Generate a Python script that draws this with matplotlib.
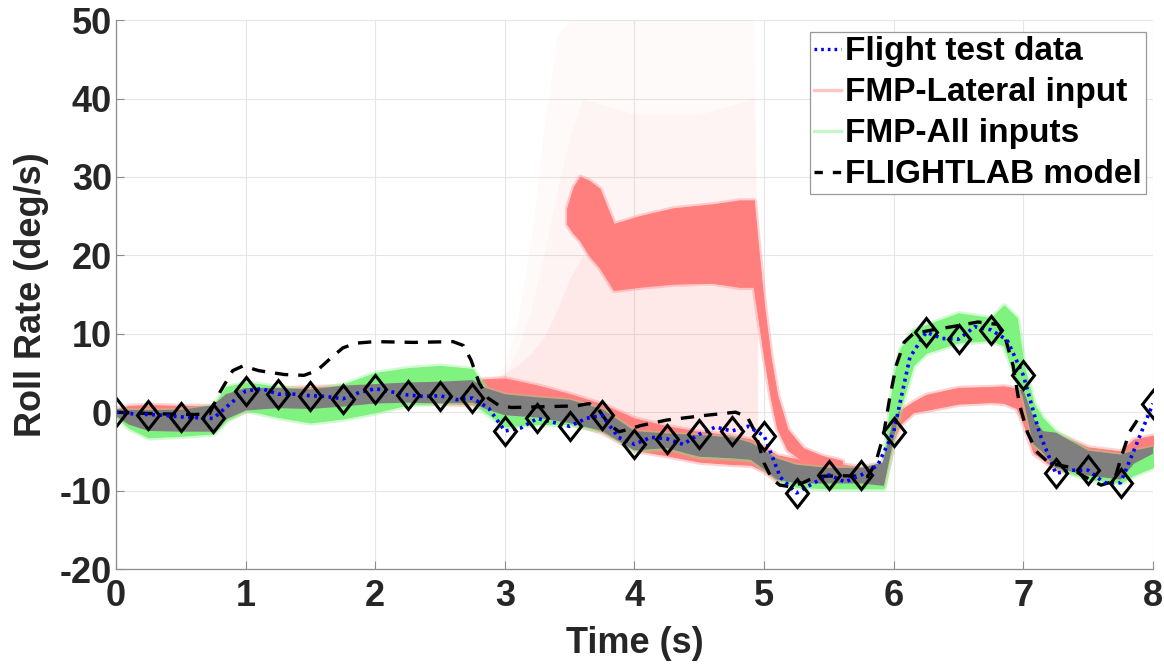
import numpy as np
import matplotlib
matplotlib.use("Agg")
import matplotlib.pyplot as plt
from matplotlib.lines import Line2D
from matplotlib.markers import MarkerStyle
from matplotlib.transforms import Affine2D

plt.rcParams['font.family'] = ['Liberation Sans', 'DejaVu Sans']
plt.rcParams['font.weight'] = 'bold'
plt.rcParams['axes.unicode_minus'] = False

# flight test roll rate, sampled every 0.125 s (markers every 0.25 s)
t_flight = np.arange(0, 65) * 0.125
p_flight = [0.0, -0.2, -0.3, -0.4, -0.6, -0.7, -0.8, 1.0,
            2.7, 3.0, 2.3, 2.3, 2.1, 2.0, 1.7, 2.5,
            3.0, 2.6, 2.2, 2.0, 2.1, 1.6, 1.8, 0.5,
            -2.4, -2.0, -0.8, -1.3, -1.8, -0.8, -0.4, -3.2,
            -4.1, -3.2, -3.4, -4.1, -2.8, -1.9, -2.4, -1.8,
            -3.0, -8.3, -10.3, -9.1, -8.0, -8.9, -8.0, -6.8,
            -2.5, 7.0, 10.2, 9.4, 9.3, 10.9, 10.5, 9.2,
            4.7, -2.7, -7.8, -7.4, -7.4, -9.0, -9.0, -4.0,
            1.1]

# FLIGHTLAB simulation
t_flightlab = [0.0, 0.3, 0.6, 0.72, 0.8, 0.9, 0.98, 1.1, 1.3, 1.45, 1.55, 1.65, 1.75, 1.85,
               2.0, 2.3, 2.6, 2.68, 2.74, 2.8, 2.87, 2.95, 3.05, 3.3, 3.55, 3.65, 3.72,
               3.8, 3.88, 3.95, 4.05, 4.25, 4.55, 4.78, 4.87, 4.93, 5.0, 5.06, 5.12, 5.2,
               5.3, 5.4, 5.6, 5.8, 5.86, 5.92, 5.97, 6.02, 6.08, 6.15, 6.3, 6.45, 6.65,
               6.8, 6.86, 6.92, 6.97, 7.03, 7.1, 7.2, 7.35, 7.47, 7.6, 7.7, 7.76, 7.82,
               7.88, 7.95]
p_flightlab = [0.0, -0.2, -0.3, -0.2, 2.5, 5.3, 5.9, 5.3, 4.8, 4.7, 5.3, 6.8, 8.2, 8.8,
               9.0, 8.9, 9.0, 8.5, 6.6, 3.8, 1.8, 0.9, 0.6, 0.7, 0.8, 1.1, 0.4,
               -1.5, -2.5, -2.2, -1.7, -1.0, -0.4, 0.0, -0.6, -2.5, -6.5, -8.5, -9.3, -9.5,
               -9.0, -8.2, -8.1, -8.2, -6.5, -3.0, 1.9, 6.0, 8.9, 10.0, 10.5, 10.9, 11.5,
               11.2, 9.5, 6.0, 1.0, -2.5, -5.0, -6.5, -7.0, -8.2, -9.3, -8.8, -5.5, -2.5,
               -1.0, -0.5]

# FMP envelopes (min / max over the model runs)
t_band = [0.0, 0.1, 0.25, 0.5, 0.75, 0.85, 1.0, 1.25, 1.5, 1.75, 2.0, 2.25, 2.5, 2.75, 2.85,
          3.0, 3.25, 3.5, 3.75, 4.0, 4.25, 4.5, 4.75, 4.9, 5.0, 5.1, 5.25, 5.5, 5.75, 5.92,
          6.0, 6.05, 6.15, 6.25, 6.5, 6.75, 6.85, 6.95, 7.0, 7.08, 7.15, 7.25, 7.5, 7.75,
          7.85, 8.0]
lat_lo = [-0.4, -1.5, -2.3, -2.4, -2.4, -0.8, 0.3, 0.6, 0.5, 0.8, 1.2, 1.3, 1.2, 1.0, 0.5,
          -0.3, -0.6, -1.3, -2.5, -4.8, -5.5, -6.3, -6.6, -6.7, -7.5, -8.7, -9.0, -9.0, -9.0, -9.3,
          -3.5, -1.5, 0.0, 0.3, 1.1, 1.3, 1.2, 0.5, -1.4, -5.2, -6.0, -7.3, -8.0, -8.5,
          -6.5, -5.2]
lat_hi = [0.4, 0.8, 0.9, 0.8, 0.8, 2.2, 3.0, 3.0, 3.2, 3.3, 3.5, 3.7, 3.8, 4.0, 4.2,
          4.3, 3.4, 2.3, 1.0, -0.8, -1.8, -2.5, -3.0, -3.5, -4.5, -5.5, -6.0, -6.5, -7.0, -6.5,
          -1.0, 0.2, 1.3, 2.2, 3.1, 3.2, 3.3, 3.0, 2.6, -1.0, -2.5, -2.7, -4.5, -5.0,
          -3.5, -3.0]
all_lo = [-0.5, -2.0, -3.2, -3.0, -2.7, -1.0, 0.3, -0.6, -1.3, -0.8, 0.0, 1.0, 1.2, 1.3, 0.0,
          -1.8, -1.5, -1.5, -2.3, -4.8, -4.5, -5.6, -5.8, -6.0, -7.2, -8.5, -9.5, -9.7, -9.7, -9.7,
          -3.0, 0.5, 6.0, 7.6, 8.9, 9.2, 8.5, 4.0, 2.0, -4.0, -5.0, -7.0, -8.5, -9.0,
          -8.0, -7.0]
all_hi = [0.3, 0.2, 0.2, 0.2, 0.8, 3.2, 3.8, 3.2, 2.8, 3.5, 5.0, 5.6, 5.9, 5.5, 3.0,
          2.2, 1.8, 1.5, 0.3, -2.5, -2.8, -3.0, -3.3, -4.0, -5.0, -6.0, -6.8, -7.2, -7.2, -6.5,
          4.5, 8.0, 10.5, 11.1, 12.6, 12.0, 13.6, 12.0, 6.2, 1.1, -0.8, -2.5, -5.0, -5.5,
          -5.0, -4.5]

# lateral-input runs that diverge between 3.5 s and 5 s
t_div = [3.48, 3.53, 3.58, 3.65, 3.73, 3.84, 4.04, 4.3, 4.6, 4.81, 4.92, 4.96, 5.0, 5.05,
         5.1, 5.18, 5.3, 5.45, 5.6]
div_lo = [24.0, 22.8, 21.9, 20.0, 18.5, 15.6, 16.0, 16.4, 16.5, 16.0, 16.0, 11.5, 7.0, 2.0,
          -2.0, -4.8, -6.2, -7.0, -7.4]
div_hi = [26.0, 28.7, 30.0, 29.5, 28.5, 24.0, 25.0, 26.0, 26.5, 27.0, 27.0, 20.0, 13.5, 7.0,
          2.2, -2.2, -4.6, -5.6, -6.2]

# sparse spread of the diverging runs
t_fan = [2.9, 3.0, 3.1, 3.2, 3.3, 3.4, 3.5, 3.6, 4.0, 4.5, 4.92, 4.95]
fan_lo = [4.0, 4.0, 3.8, 3.4, 3.0, 2.6, 2.2, 1.8, -0.8, -2.5, -3.5, -4.0]
fan_near = [4.2, 5.0, 6.0, 7.5, 9.5, 13.0, 17.0, 20.0, 17.0, 16.0, 16.0, 12.0]
fan_mid = [4.2, 5.0, 8.0, 13.0, 20.0, 28.0, 35.0, 40.0, 38.0, 38.0, 40.0, 18.0]
fan_far = [4.2, 6.0, 12.0, 22.0, 36.0, 48.0, 50.0, 50.0, 50.0, 50.0, 50.0, 18.0]

red = '#ff7f7f'
green = '#7ff27f'
grey = '#7f7f7f'


def soft_band(ax, t, lo, hi, color, **kw):
    # blurred rim first, then the solid envelope on top
    ax.fill_between(t, lo, hi, color=color, alpha=0.35, lw=4, edgecolor=color, **kw)
    ax.fill_between(t, lo, hi, color=color, lw=0.8, edgecolor=color, **kw)


fig = plt.figure(figsize=(11.64, 6.71), dpi=100)
ax = fig.add_axes([0.0997, 0.152, 0.8908, 0.818])

for hi, a in [(fan_far, 0.025), (fan_mid, 0.035), (fan_near, 0.07)]:
    ax.fill_between(t_fan, fan_lo, hi, color='#ff5050', alpha=a, lw=0)

soft_band(ax, t_div, div_lo, div_hi, red)
soft_band(ax, t_band, lat_lo, lat_hi, red)
soft_band(ax, t_band, all_lo, all_hi, green)

# overlap of both FMP envelopes
lo = np.maximum(lat_lo, all_lo)
hi = np.minimum(lat_hi, all_hi)
ax.fill_between(t_band, lo, hi, where=hi > lo, interpolate=True, color=grey, lw=1.0,
                edgecolor=grey)

ax.plot(t_flightlab, p_flightlab, color='black', lw=2.4, dashes=(4, 3))
ax.plot(t_flight, p_flight, color='#0000ff', lw=2.6, ls=(0, (0.8, 1.2)))
diamond = MarkerStyle('D', transform=Affine2D().scale(0.82, 1.05))
ax.plot(t_flight[::2], p_flight[::2], ls='none', marker=diamond, ms=14, mfc='none',
        mec='black', mew=2.2)

ax.set_xlim(0, 8)
ax.set_ylim(-20, 50)
ax.set_xticks(range(0, 9))
ax.set_yticks(range(-20, 51, 10))
ax.grid(True, color='#e6e6e6', lw=0.8)
ax.set_axisbelow(True)
for side in ['top', 'right']:
    ax.spines[side].set_visible(False)
for side in ['left', 'bottom']:
    ax.spines[side].set_color('#8c8c8c')
    ax.spines[side].set_linewidth(0.9)
ax.tick_params(direction='in', length=6, width=0.8, color='#8c8c8c',
               labelsize=26, labelcolor='#262626')
ax.tick_params(axis='x', pad=7)
ax.tick_params(axis='y', pad=3)
for lab in ax.get_xticklabels() + ax.get_yticklabels():
    lab.set_fontweight('bold')

ax.set_xlabel('Time (s)', fontsize=26, fontweight='bold', color='#262626', labelpad=9)
ax.set_ylabel('Roll Rate (deg/s)', fontsize=26, fontweight='bold', color='#262626', labelpad=8)

handles = [
    Line2D([], [], color='#0000ff', lw=2.4, ls=(0, (0.8, 1.2))),
    Line2D([], [], color='#ffc4c4', lw=2.4),
    Line2D([], [], color='#c4f8c4', lw=2.4),
    Line2D([], [], color='black', lw=2.4, dashes=(2.5, 3)),
]
labels = ['Flight test data', 'FMP-Lateral input', 'FMP-All inputs', 'FLIGHTLAB model']
leg = ax.legend(handles, labels, loc='upper right', bbox_to_anchor=(0.9932, 0.978),
                borderaxespad=0, fancybox=False, framealpha=1, edgecolor='#999999',
                prop={'size': 24, 'weight': 'bold'}, handlelength=0.8, handletextpad=0.12,
                labelspacing=0.3, borderpad=0.12)
leg.get_frame().set_linewidth(0.9)

fig.savefig('out.png', dpi=100)
